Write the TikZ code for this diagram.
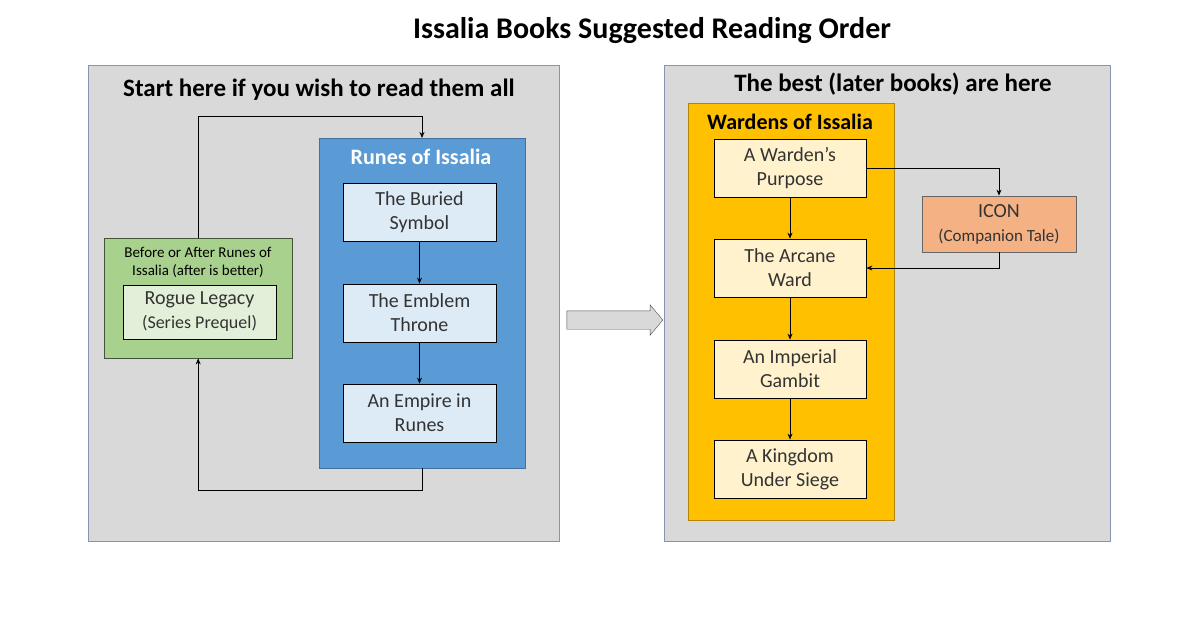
\documentclass[tikz,border=0pt]{standalone}
\usepackage{fontspec}
\setmainfont{Carlito}
\usetikzlibrary{positioning,arrows.meta,shapes.arrows}
\definecolor{panelgray}{HTML}{D9D9D9}
\definecolor{panelline}{HTML}{8497B0}
\definecolor{runeblue}{HTML}{5B9BD5}
\definecolor{runeline}{HTML}{41719C}
\definecolor{runelight}{HTML}{DDEBF7}
\definecolor{leafgreen}{HTML}{A9D18E}
\definecolor{leaflight}{HTML}{E2F0D9}
\definecolor{wardgold}{HTML}{FFC000}
\definecolor{wardlight}{HTML}{FFF2CC}
\definecolor{iconorange}{HTML}{F4B183}
\begin{document}
\begin{tikzpicture} [x=1pt, y=-1pt,
    >={Stealth[length=6pt,width=5pt]},
    panel/.style = {draw=panelline, fill=panelgray, anchor=north west, inner sep=0},
    book/.style = {draw=black, thick, minimum width=153pt, minimum height=58pt,
        align=center, font=\fontsize{20}{24}\selectfont, text=black!80},
    link/.style = {->, thick}]
\useasboundingbox (0,0) rectangle (1200,630);

\node[font=\bfseries\fontsize{30}{34}\selectfont] (title) at (652,31) {Issalia Books Suggested Reading Order};

% left panel
\node[panel, minimum width=471pt, minimum height=476pt] (left) at (88,65) {};
\node[font=\bfseries\fontsize{25}{29}\selectfont] (lefttitle) at (319,90) {Start here if you wish to read them all};
\node[panel, draw=runeline, fill=runeblue, minimum width=206pt, minimum height=330pt] (runes) at (319,138) {};
\node[font=\bfseries\fontsize{22}{26}\selectfont, text=white] (runestitle) at (421,157) {Runes of Issalia};
\node[book, fill=runelight] (b1) at (419.5,212) {The Buried\\Symbol};
\node[book, fill=runelight] (b2) at (419.5,313) {The Emblem\\Throne};
\node[book, fill=runelight] (b3) at (419.5,413) {An Empire in\\Runes};
\draw[link] (b1) -- (b2);
\draw[link] (b2) -- (b3);

\node[panel, draw=black!60!leafgreen, fill=leafgreen, minimum width=188pt, minimum height=120pt] (before) at (104,238) {};
\node[align=center, font=\fontsize{15}{18}\selectfont] (beforetitle) at (198,262) {Before or After Runes of\\Issalia (after is better)};
\node[book, fill=leaflight, minimum height=54pt] (rogue) at (199.5,312) {Rogue Legacy\\{\fontsize{18}{22}\selectfont(Series Prequel)}};

\coordinate (top1) at (198,116);
\coordinate (top2) at (422,116);
\coordinate (bot1) at (422,490);
\coordinate (bot2) at (198,490);
\draw[link] (before.north) |- (top2) -- (runes.north -| top2);
\draw[link] (runes.south -| bot1) -- (bot1) -| (before.south);

% big arrow
\node[single arrow, draw=black!70, fill=panelgray, minimum height=96pt,
    single arrow head extend=6pt, single arrow tip angle=100, inner xsep=0, inner ysep=9pt] (go) at (611,320) {};

% right panel
\node[panel, minimum width=446pt, minimum height=476pt] (right) at (664,65) {};
\node[font=\bfseries\fontsize{25}{29}\selectfont] (righttitle) at (893,84) {The best (later books) are here};
\node[panel, draw=black!30!wardgold, fill=wardgold, minimum width=206pt, minimum height=417pt] (wardens) at (688,103) {};
\node[font=\bfseries\fontsize{22}{26}\selectfont] (wardenstitle) at (790,122) {Wardens of Issalia};
\node[book, fill=wardlight, minimum width=152pt] (w1) at (790,168) {A Warden’s\\Purpose};
\node[book, fill=wardlight, minimum width=152pt] (w2) at (790,268) {The Arcane\\Ward};
\node[book, fill=wardlight, minimum width=152pt] (w3) at (790,369) {An Imperial\\Gambit};
\node[book, fill=wardlight, minimum width=152pt] (w4) at (790,469) {A Kingdom\\Under Siege};
\node[book, fill=iconorange, draw=black!60, minimum width=154pt, minimum height=56pt] (icon) at (999,224) {ICON\\{\fontsize{17}{21}\selectfont(Companion Tale)}};
\draw[link] (w1) -- (w2);
\draw[link] (w2) -- (w3);
\draw[link] (w3) -- (w4);
\draw[link] (w1.east) -| (icon.north);
\draw[link] (icon.south) |- (w2.east);
\end{tikzpicture}
\end{document}
